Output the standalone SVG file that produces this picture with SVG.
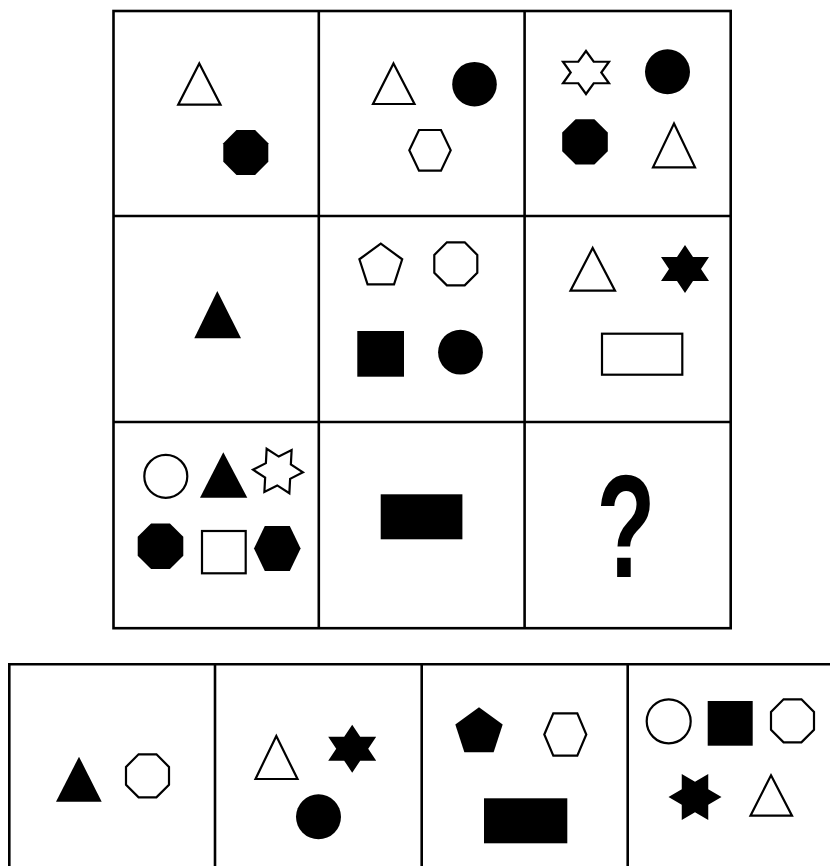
<svg xmlns="http://www.w3.org/2000/svg" width="830" height="866" viewBox="0 0 830 866">
<style>
.grid{fill:none;stroke:#000;stroke-width:2.6}
.o{fill:#fff;stroke:#000;stroke-width:2.2;stroke-linejoin:miter}
.b{fill:#000;stroke:none}
.q{font-family:"Liberation Sans",Arial,sans-serif;font-size:146px;font-weight:bold;fill:#000}
</style>
<rect width="830" height="866" fill="#fff"/>
<g id="grid">
<rect class="grid" x="113.5" y="11" width="617.2" height="617.2"/>
<line class="grid" x1="318.8" y1="11" x2="318.8" y2="628.2"/>
<line class="grid" x1="524.6" y1="11" x2="524.6" y2="628.2"/>
<line class="grid" x1="113.5" y1="216" x2="730.7" y2="216"/>
<line class="grid" x1="113.5" y1="422" x2="730.7" y2="422"/>
</g>
<g id="options-grid">
<path class="grid" d="M9.3 872 V664.3 H834"/>
<line class="grid" x1="215" y1="664.3" x2="215" y2="872"/>
<line class="grid" x1="421.7" y1="664.3" x2="421.7" y2="872"/>
<line class="grid" x1="627.7" y1="664.3" x2="627.7" y2="872"/>
</g>
<g id="cell-1-1">
<polygon class="o" points="199.3,63.5 220.5,104.7 178.2,104.7"/>
<polygon class="b" transform="translate(245.8,152.5)" points="9.3,-22.5 22.5,-9.3 22.5,9.3 9.3,22.5 -9.3,22.5 -22.5,9.3 -22.5,-9.3 -9.3,-22.5"/>
</g>
<g id="cell-1-2">
<polygon class="o" points="393.5,63.5 414.5,104 373,104"/>
<circle class="b" cx="474.5" cy="84.2" r="22.3"/>
<polygon class="o" transform="translate(430,150.3)" points="-20.7,0 -11,-20.3 11,-20.3 20.7,0 11,20.3 -11,20.3"/>
</g>
<g id="cell-1-3">
<polygon class="o" transform="translate(586,72.5)" points="0,-21.5 7.7,-10.75 23,-10.75 15.3,0 23,10.75 7.7,10.75 0,21.5 -7.7,10.75 -23,10.75 -15.3,0 -23,-10.75 -7.7,-10.75"/>
<circle class="b" cx="667.5" cy="71.8" r="22.5"/>
<polygon class="b" transform="translate(585,141.8)" points="9.4,-22.6 22.8,-9.4 22.8,9.4 9.4,22.6 -9.4,22.6 -22.8,9.4 -22.8,-9.4 -9.4,-22.6"/>
<polygon class="o" points="674,123.5 695,167.3 653,167.3"/>
</g>
<g id="cell-2-1">
<polygon class="b" points="217.3,291 241,338.3 194.3,338.3"/>
</g>
<g id="cell-2-2">
<polygon class="o" transform="translate(380.8,266.2)" points="0,-22.5 21.4,-6.95 13.23,18.2 -13.23,18.2 -21.4,-6.95"/>
<polygon class="o" transform="translate(455.8,263.8)" points="8.9,-21.5 21.5,-8.9 21.5,8.9 8.9,21.5 -8.9,21.5 -21.5,8.9 -21.5,-8.9 -8.9,-21.5"/>
<rect class="b" x="357.3" y="331" width="46.7" height="45.7"/>
<circle class="b" cx="460.5" cy="352.2" r="22.4"/>
</g>
<g id="cell-2-3">
<polygon class="o" points="592.7,248 615,290.7 570.5,290.7"/>
<polygon class="b" transform="translate(685,269)" points="0,-24 8,-12 24,-12 16,0 24,12 8,12 0,24 -8,12 -24,12 -16,0 -24,-12 -8,-12"/>
<rect class="o" x="602" y="333.7" width="80.3" height="41"/>
</g>
<g id="cell-3-1">
<circle class="o" cx="165.8" cy="476.3" r="21.5"/>
<polygon class="b" points="223.3,452.3 247.3,497.7 200,497.7"/>
<polygon class="o" transform="translate(278,471) rotate(3)" points="25,0 12.5,7.22 12.5,21.65 0,14.43 -12.5,21.65 -12.5,7.22 -25,0 -12.5,-7.22 -12.5,-21.65 0,-14.43 12.5,-21.65 12.5,-7.22"/>
<polygon class="b" transform="translate(160.5,546.2)" points="9.45,-22.8 22.8,-9.45 22.8,9.45 9.45,22.8 -9.45,22.8 -22.8,9.45 -22.8,-9.45 -9.45,-22.8"/>
<rect class="o" x="202" y="531" width="43.7" height="42.3"/>
<polygon class="b" transform="translate(277.3,548.5)" points="-23.3,0 -12.5,-22.5 12.5,-22.5 23.3,0 12.5,22.5 -12.5,22.5"/>
</g>
<g id="cell-3-2">
<rect class="b" x="380.7" y="494.3" width="81.7" height="45"/>
</g>
<g id="cell-3-3">
<text class="q" transform="translate(626,576.7) scale(0.66,1)" x="0" y="0" text-anchor="middle">?</text>
</g>
<g id="option-1">
<polygon class="b" points="79,756.7 101.7,801.7 56,801.7"/>
<polygon class="o" transform="translate(147.5,775.8)" points="8.9,-21.5 21.5,-8.9 21.5,8.9 8.9,21.5 -8.9,21.5 -21.5,8.9 -21.5,-8.9 -8.9,-21.5"/>
</g>
<g id="option-2">
<polygon class="o" points="276.3,736 297.5,779 255.5,779"/>
<polygon class="b" transform="translate(352.2,748.7)" points="0,-24 8,-12 24,-12 16,0 24,12 8,12 0,24 -8,12 -24,12 -16,0 -24,-12 -8,-12"/>
<circle class="b" cx="318.5" cy="816.8" r="22.5"/>
</g>
<g id="option-3">
<polygon class="b" transform="translate(479,732.2)" points="0,-24.9 23.68,-7.69 14.64,20.14 -14.64,20.14 -23.68,-7.69"/>
<polygon class="o" transform="translate(565.3,734.5)" points="-21,0 -12,-21.2 12,-21.2 21,0 12,21.2 -12,21.2"/>
<rect class="b" x="484" y="798.3" width="83.3" height="45"/>
</g>
<g id="option-4">
<circle class="o" cx="668.7" cy="721.3" r="22"/>
<rect class="b" x="707.7" y="701" width="45" height="44.7"/>
<polygon class="o" transform="translate(792.5,720.8)" points="8.9,-21.5 21.5,-8.9 21.5,8.9 8.9,21.5 -8.9,21.5 -21.5,8.9 -21.5,-8.9 -8.9,-21.5"/>
<polygon class="b" transform="translate(695,797)" points="26.5,0 13.25,7.65 13.25,22.95 0,15.3 -13.25,22.95 -13.25,7.65 -26.5,0 -13.25,-7.65 -13.25,-22.95 0,-15.3 13.25,-22.95 13.25,-7.65"/>
<polygon class="o" points="771,775.3 792,815.7 750.5,815.7"/>
</g>
</svg>
